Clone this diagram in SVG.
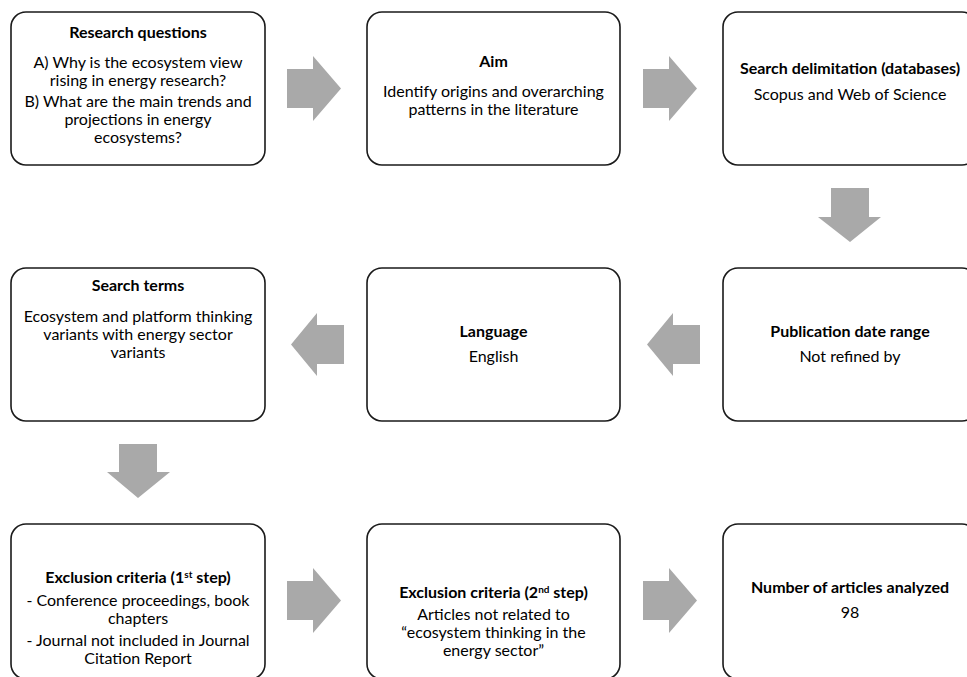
<svg xmlns="http://www.w3.org/2000/svg" width="967" height="677" viewBox="0 0 967 677">
<style>
.box{fill:#fff;stroke:#1a1a1a;stroke-width:1.6}
.arr{fill:#a9a9a9;stroke:none}
text{font-family:Lato,"Open Sans","Liberation Sans",sans-serif;font-size:16px;fill:#000;text-anchor:middle}
.t{font-weight:bold}
.sup{font-size:10px}
</style>
<rect width="967" height="677" fill="#fff"/>
<g id="connectors">
<polygon class="arr" points="287,69 313,69 313,56 341,88.5 313,121 313,108 287,108"/>
<polygon class="arr" points="643,69 669,69 669,56 697,88.5 669,121 669,108 643,108"/>
<polygon class="arr" points="831,188 869,188 869,217 881,217 850,242 818,217 831,217"/>
<polygon class="arr" points="344,325 317,325 317,313 291,344.5 317,376 317,364 344,364"/>
<polygon class="arr" points="700,325 673,325 673,313 647,344.5 673,376 673,364 700,364"/>
<polygon class="arr" points="119,444 157,444 157,472 170,472 138,498 107,472 119,472"/>
<polygon class="arr" points="287,581 313,581 313,568 341,600.5 313,633 313,620 287,620"/>
<polygon class="arr" points="643,581 669,581 669,568 697,600.5 669,633 669,620 643,620"/>
</g>
<g id="research-questions">
<rect class="box" x="11" y="12" width="254" height="153" rx="15"/>
<text class="t" x="138" y="38">Research questions</text>
<text x="138" y="68">A) Why is the ecosystem view</text>
<text x="138" y="86">rising in energy research?</text>
<text x="138" y="107">B) What are the main trends and</text>
<text x="138" y="125">projections in energy</text>
<text x="138" y="143">ecosystems?</text>
</g>
<g id="aim">
<rect class="box" x="367" y="12" width="253" height="153" rx="15"/>
<text class="t" x="493.5" y="67">Aim</text>
<text x="493.5" y="97">Identify origins and overarching</text>
<text x="493.5" y="115">patterns in the literature</text>
</g>
<g id="search-delimitation">
<rect class="box" x="723" y="12" width="254" height="153" rx="15"/>
<text class="t" x="850" y="74">Search delimitation (databases)</text>
<text x="850" y="100">Scopus and Web of Science</text>
</g>
<g id="publication-date">
<rect class="box" x="723" y="268" width="254" height="153" rx="15"/>
<text class="t" x="850" y="337">Publication date range</text>
<text x="850" y="362">Not refined by</text>
</g>
<g id="language">
<rect class="box" x="367" y="268" width="253" height="153" rx="15"/>
<text class="t" x="493.5" y="337">Language</text>
<text x="493.5" y="362">English</text>
</g>
<g id="search-terms">
<rect class="box" x="11" y="268" width="254" height="153" rx="15"/>
<text class="t" x="138" y="291">Search terms</text>
<text x="138" y="322">Ecosystem and platform thinking</text>
<text x="138" y="340">variants with energy sector</text>
<text x="138" y="358">variants</text>
</g>
<g id="exclusion-1">
<rect class="box" x="11" y="524" width="254" height="155" rx="15"/>
<text class="t" x="138" y="583">Exclusion criteria (1<tspan class="sup" dy="-5">st</tspan><tspan dy="5"> step)</tspan></text>
<text x="138" y="606">- Conference proceedings, book</text>
<text x="138" y="624">chapters</text>
<text x="138" y="646">- Journal not included in Journal</text>
<text x="138" y="664">Citation Report</text>
</g>
<g id="exclusion-2">
<rect class="box" x="367" y="524" width="253" height="155" rx="15"/>
<text class="t" x="493.5" y="598">Exclusion criteria (2<tspan class="sup" dy="-5">nd</tspan><tspan dy="5"> step)</tspan></text>
<text x="493.5" y="620">Articles not related to</text>
<text x="493.5" y="638">“ecosystem thinking in the</text>
<text x="493.5" y="656">energy sector”</text>
</g>
<g id="articles-analyzed">
<rect class="box" x="723" y="524" width="254" height="155" rx="15"/>
<text class="t" x="850" y="593">Number of articles analyzed</text>
<text x="850" y="618">98</text>
</g>
</svg>
